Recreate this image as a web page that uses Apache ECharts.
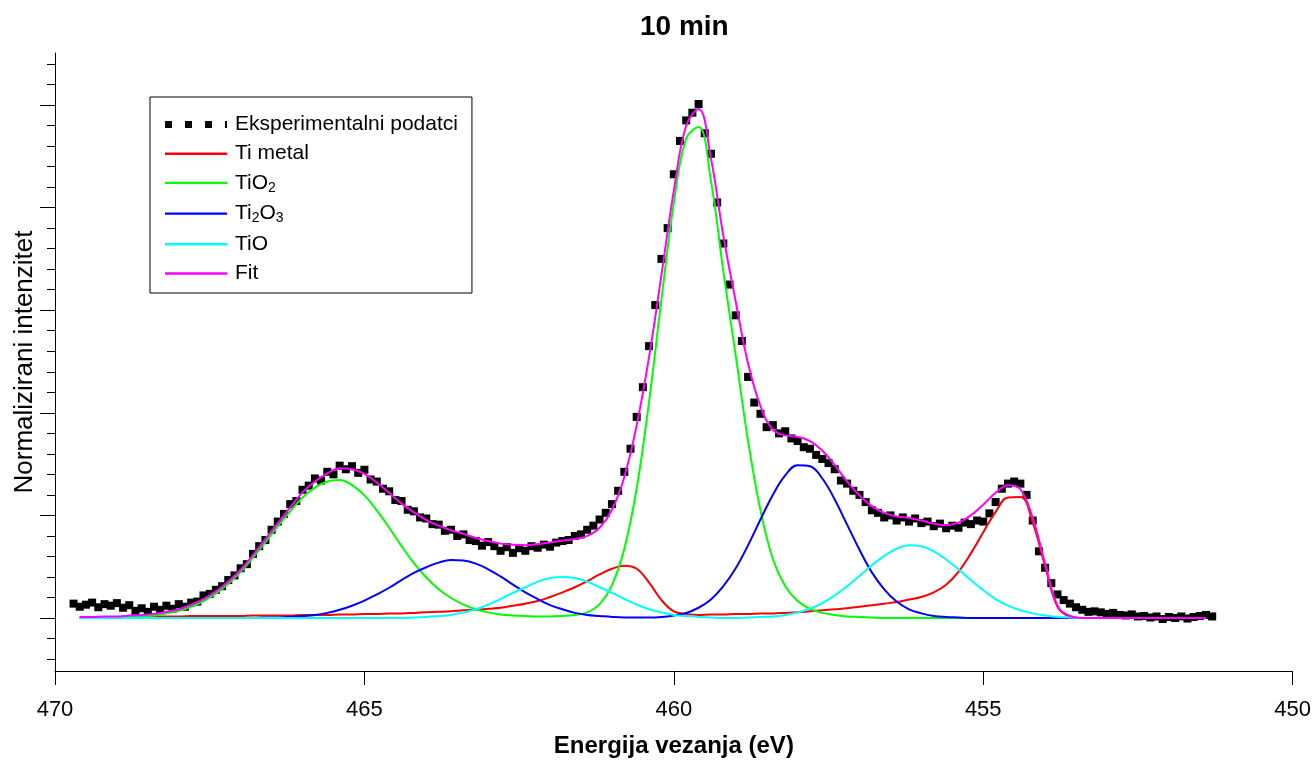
<!DOCTYPE html>
<html><head><meta charset="utf-8">
<script src="https://cdn.jsdelivr.net/npm/echarts@6/dist/echarts.min.js"></script>
<style>html,body{margin:0;padding:0;background:#fff}#c{width:1314px;height:763px}</style>
</head><body><div id="c"></div>
<script>
// ---- data ----
const energyFit = [
469.6,469.4,469.2,469.0,468.8,468.6,468.4,468.2,468.0,467.8,
467.6,467.4,467.2,467.0,466.8,466.6,466.4,466.2,466.0,465.8,
465.6,465.4,465.2,465.0,464.8,464.6,464.4,464.2,464.0,463.8,
463.6,463.4,463.2,463.0,462.8,462.6,462.4,462.2,462.0,461.8,
461.6,461.4,461.2,461.0,460.8,460.6,460.4,460.2,460.0,459.8,
459.6,459.4,459.2,459.0,458.8,458.6,458.4,458.2,458.0,457.8,
457.6,457.4,457.2,457.0,456.8,456.6,456.4,456.2,456.0,455.8,
455.6,455.4,455.2,455.0,454.8,454.6,454.4,454.2,454.0,453.8,
453.6,453.4,453.2,453.0,452.8,452.6,452.4,452.2,452.0,451.8,
451.6,451.4];
const tiMetal = [
0.002,0.002,0.002,0.002,0.003,0.003,0.003,0.003,0.003,0.004,
0.004,0.004,0.004,0.004,0.005,0.005,0.005,0.005,0.006,0.006,
0.006,0.007,0.007,0.008,0.008,0.009,0.009,0.010,0.011,0.012,
0.013,0.015,0.016,0.018,0.020,0.024,0.028,0.033,0.041,0.050,
0.060,0.072,0.085,0.096,0.102,0.096,0.069,0.035,0.013,0.008,
0.006,0.007,0.007,0.008,0.008,0.009,0.009,0.010,0.011,0.013,
0.015,0.017,0.019,0.022,0.025,0.028,0.031,0.036,0.041,0.050,
0.065,0.090,0.126,0.167,0.207,0.235,0.236,0.186,0.101,0.022,
0.003,0,0,0,0,0,0,0,0,0,
0,0];
const tiO2 = [
0.000,0.000,0.001,0.001,0.002,0.003,0.005,0.009,0.014,0.022,
0.033,0.048,0.067,0.090,0.118,0.148,0.179,0.208,0.235,0.254,
0.266,0.269,0.259,0.239,0.210,0.176,0.140,0.107,0.079,0.056,
0.039,0.026,0.017,0.011,0.007,0.005,0.004,0.003,0.003,0.004,
0.006,0.011,0.027,0.064,0.135,0.253,0.422,0.621,0.809,0.935,
0.957,0.852,0.676,0.512,0.345,0.210,0.115,0.062,0.033,0.018,
0.010,0.006,0.003,0.002,0.001,0,0,0,0,0,
0,0,0,0,0,0,0,0,0,0,
0,0,0,0,0,0,0,0,0,0,
0,0];
const ti2O3 = [
0,0,0,0,0,0,0,0,0,0,
0,0,0,0,0,0.001,0.001,0.002,0.004,0.006,
0.010,0.016,0.024,0.034,0.046,0.059,0.074,0.088,0.099,0.108,
0.113,0.112,0.106,0.095,0.081,0.065,0.050,0.037,0.025,0.017,
0.010,0.006,0.004,0.002,0.001,0.001,0.001,0.002,0.005,0.010,
0.020,0.036,0.062,0.097,0.142,0.192,0.240,0.278,0.298,0.296,
0.272,0.231,0.182,0.133,0.089,0.056,0.032,0.017,0.009,0.004,
0.002,0.001,0,0,0,0,0,0,0,0,
0,0,0,0,0,0,0,0,0,0,
0,0];
const tiO = [
0,0,0,0,0,0,0,0,0,0,
0,0,0,0,0,0,0,0,0,0,
0,0,0,0,0,0,0,0.001,0.002,0.004,
0.006,0.011,0.017,0.026,0.037,0.049,0.060,0.071,0.078,0.080,
0.078,0.071,0.060,0.049,0.037,0.026,0.017,0.011,0.006,0.004,
0.002,0.001,0,0,0.001,0.002,0.003,0.006,0.011,0.018,
0.029,0.044,0.062,0.082,0.103,0.121,0.135,0.142,0.140,0.130,
0.114,0.095,0.074,0.054,0.037,0.024,0.015,0.009,0.005,0.002,
0.001,0,0,0,0,0,0,0,0,0,
0,0];
const fitTotal = [
0.002,0.002,0.003,0.003,0.005,0.006,0.008,0.012,0.017,0.026,
0.037,0.052,0.071,0.094,0.123,0.154,0.185,0.215,0.245,0.266,
0.282,0.292,0.290,0.281,0.264,0.244,0.223,0.206,0.191,0.180,
0.171,0.164,0.156,0.150,0.145,0.143,0.142,0.144,0.147,0.151,
0.154,0.160,0.176,0.211,0.275,0.376,0.509,0.669,0.833,0.960,
0.992,0.896,0.745,0.617,0.496,0.413,0.367,0.356,0.353,0.345,
0.326,0.298,0.266,0.239,0.218,0.205,0.198,0.195,0.190,0.184,
0.181,0.186,0.200,0.221,0.244,0.259,0.251,0.195,0.106,0.024,
0.004,0,0,0,0,0,0,0,0,0,
0,0];
const expEnergy = [
469.7,469.6,469.5,469.4,469.3,469.2,469.1,469.0,468.9,468.8,
468.7,468.6,468.5,468.4,468.3,468.2,468.1,468.0,467.9,467.8,
467.7,467.6,467.5,467.4,467.3,467.2,467.1,467.0,466.9,466.8,
466.7,466.6,466.5,466.4,466.3,466.2,466.1,466.0,465.9,465.8,
465.7,465.6,465.5,465.4,465.3,465.2,465.1,465.0,464.9,464.8,
464.7,464.6,464.5,464.4,464.3,464.2,464.1,464.0,463.9,463.8,
463.7,463.6,463.5,463.4,463.3,463.2,463.1,463.0,462.9,462.8,
462.7,462.6,462.5,462.4,462.3,462.2,462.1,462.0,461.9,461.8,
461.7,461.6,461.5,461.4,461.3,461.2,461.1,461.0,460.9,460.8,
460.7,460.6,460.5,460.4,460.3,460.2,460.1,460.0,459.9,459.8,
459.7,459.6,459.5,459.4,459.3,459.2,459.1,459.0,458.9,458.8,
458.7,458.6,458.5,458.4,458.3,458.2,458.1,458.0,457.9,457.8,
457.7,457.6,457.5,457.4,457.3,457.2,457.1,457.0,456.9,456.8,
456.7,456.6,456.5,456.4,456.3,456.2,456.1,456.0,455.9,455.8,
455.7,455.6,455.5,455.4,455.3,455.2,455.1,455.0,454.9,454.8,
454.7,454.6,454.5,454.4,454.3,454.2,454.1,454.0,453.9,453.8,
453.7,453.6,453.5,453.4,453.3,453.2,453.1,453.0,452.9,452.8,
452.7,452.6,452.5,452.4,452.3,452.2,452.1,452.0,451.9,451.8,
451.7,451.6,451.5,451.4,451.3];
const expIntensity = [
0.028,0.022,0.026,0.030,0.021,0.027,0.024,0.029,0.020,0.025,
0.014,0.019,0.012,0.022,0.016,0.024,0.018,0.027,0.022,0.030,
0.032,0.044,0.047,0.055,0.062,0.074,0.083,0.097,0.105,0.125,
0.140,0.152,0.172,0.188,0.203,0.222,0.228,0.250,0.258,0.272,
0.268,0.285,0.280,0.297,0.290,0.296,0.283,0.289,0.270,0.266,
0.252,0.247,0.230,0.228,0.211,0.208,0.196,0.194,0.183,0.182,
0.170,0.172,0.160,0.163,0.152,0.150,0.141,0.148,0.140,0.131,
0.138,0.127,0.136,0.131,0.140,0.137,0.143,0.139,0.147,0.150,
0.152,0.160,0.163,0.172,0.180,0.192,0.205,0.222,0.248,0.285,
0.330,0.392,0.450,0.530,0.610,0.700,0.760,0.865,0.930,0.970,
0.985,1.002,0.945,0.905,0.810,0.730,0.650,0.590,0.540,0.470,
0.420,0.398,0.372,0.376,0.360,0.364,0.350,0.345,0.333,0.330,
0.318,0.310,0.302,0.290,0.268,0.262,0.248,0.240,0.226,0.210,
0.205,0.196,0.200,0.190,0.196,0.188,0.194,0.185,0.188,0.179,
0.184,0.175,0.180,0.176,0.186,0.183,0.190,0.188,0.204,0.226,
0.252,0.262,0.266,0.262,0.240,0.190,0.130,0.098,0.068,0.046,
0.035,0.028,0.021,0.016,0.012,0.013,0.011,0.008,0.010,0.006,
0.005,0.007,0.003,0.004,0.001,0.003,-0.002,0.002,0.000,0.003,
-0.001,0.002,0.004,0.006,0.003];
const seriesNames = ['Eksperimentalni podatci','Ti metal','TiO2','Ti2O3','TiO','Fit'];
const yMajorTicks = [0,0.2,0.4,0.6,0.8,1.0];
const yMinorTicks = [-0.08,-0.04,0,0.04,0.08,0.12,0.16,0.2,0.24,0.28,0.32,0.36,0.4,0.44,0.48,0.52,0.56,0.6,0.64,0.68,0.72,0.76,0.8,0.84,0.88,0.92,0.96,1.0,1.04,1.08];

// ---- chart ----
const FONT = "'Liberation Sans', Arial, Helvetica, sans-serif";
const Y_MIN = -0.1033, Y_MAX = 1.1014;
const chart = echarts.init(document.getElementById('c'), null, {renderer: 'canvas'});
const pairs = (xs, ys) => xs.map((x, i) => [x, ys[i]]);
const lineSeries = (name, ys, color, z) => ({
  name: name, type: 'line', data: pairs(energyFit, ys),
  symbol: 'none', showSymbol: false, smooth: 0.4,
  lineStyle: {color: color, width: 2}, itemStyle: {color: color},
  emphasis: {disabled: true}, z: z
});
const legendLabel = {
  'Eksperimentalni podatci': '{n|Eksperimentalni podatci}',
  'Ti metal': '{n|Ti metal}',
  'TiO2': '{n|TiO}{s|2}',
  'Ti2O3': '{n|Ti}{s|2}{n|O}{s|3}',
  'TiO': '{n|TiO}',
  'Fit': '{n|Fit}'
};
const LINE_ICON = 'path://M0,0h62v2.4h-62z';
const yAxisBase = {
  type: 'value', min: Y_MIN, max: Y_MAX, position: 'left',
  splitLine: {show: false}, axisLabel: {show: false}
};
chart.setOption({
  animation: false,
  backgroundColor: '#ffffff',
  title: {
    text: '10 min', left: 640, top: 13, padding: 0,
    textStyle: {fontFamily: FONT, fontSize: 28, fontWeight: 'bold', color: '#000'}
  },
  grid: {left: 55, right: 21, top: 53, bottom: 92},
  legend: {
    orient: 'vertical', left: 150, top: 97,
    padding: [17, 14, 9, 15], itemGap: 8.2, itemWidth: 62, itemHeight: 14,
    borderColor: '#000', borderWidth: 1, selectedMode: false,
    data: [
      {name: seriesNames[0], icon: 'path://M0,0h7v7h-7z M20,0h7v7h-7z M40,0h7v7h-7z M60,0h2v7h-2z'},
      {name: seriesNames[1], icon: LINE_ICON},
      {name: seriesNames[2], icon: LINE_ICON},
      {name: seriesNames[3], icon: LINE_ICON},
      {name: seriesNames[4], icon: LINE_ICON},
      {name: seriesNames[5], icon: LINE_ICON}
    ],
    formatter: name => legendLabel[name],
    textStyle: {
      color: '#000', fontFamily: FONT, fontSize: 21, padding: [0, 0, 0, 3],
      rich: {
        n: {fontFamily: FONT, fontSize: 21, lineHeight: 24, color: '#000'},
        s: {fontFamily: FONT, fontSize: 14, lineHeight: 10, verticalAlign: 'bottom', color: '#000'}
      }
    }
  },
  xAxis: {
    type: 'value', min: 450, max: 470, interval: 5, inverse: true, position: 'bottom',
    name: 'Energija vezanja (eV)', nameLocation: 'middle', nameGap: 63,
    nameTextStyle: {fontFamily: FONT, fontSize: 24, fontWeight: 'bold', color: '#000'},
    axisLine: {show: true, onZero: false, lineStyle: {color: '#000', width: 1}},
    axisTick: {show: true, inside: false, length: 14, lineStyle: {color: '#000', width: 1}},
    axisLabel: {show: true, margin: 28, fontFamily: FONT, fontSize: 22, color: '#000',
      showMinLabel: true, showMaxLabel: true},
    splitLine: {show: false}
  },
  yAxis: [
    Object.assign({}, yAxisBase, {
      name: 'Normalizirani intenzitet', nameLocation: 'middle', nameGap: 17, nameRotate: 90,
      nameTextStyle: {fontFamily: FONT, fontSize: 26, color: '#000'},
      axisLine: {show: true, onZero: false, lineStyle: {color: '#000', width: 1}},
      axisTick: {show: true, inside: false, length: 15, customValues: yMajorTicks,
        lineStyle: {color: '#000', width: 1}}
    }),
    Object.assign({}, yAxisBase, {
      axisLine: {show: false, onZero: false},
      axisTick: {show: true, inside: false, length: 8, customValues: yMinorTicks,
        lineStyle: {color: '#000', width: 1}}
    })
  ],
  series: [
    {
      name: seriesNames[0], type: 'scatter', data: pairs(expEnergy, expIntensity),
      symbol: 'rect', symbolSize: 8, itemStyle: {color: '#000', opacity: 1},
      emphasis: {disabled: true}, z: 2
    },
    lineSeries(seriesNames[1], tiMetal, '#ff0000', 3),
    lineSeries(seriesNames[2], tiO2, '#00ff00', 3),
    lineSeries(seriesNames[3], ti2O3, '#0000ff', 3),
    lineSeries(seriesNames[4], tiO, '#00ffff', 3),
    lineSeries(seriesNames[5], fitTotal, '#ff00ff', 4)
  ]
});
</script>
</body></html>
